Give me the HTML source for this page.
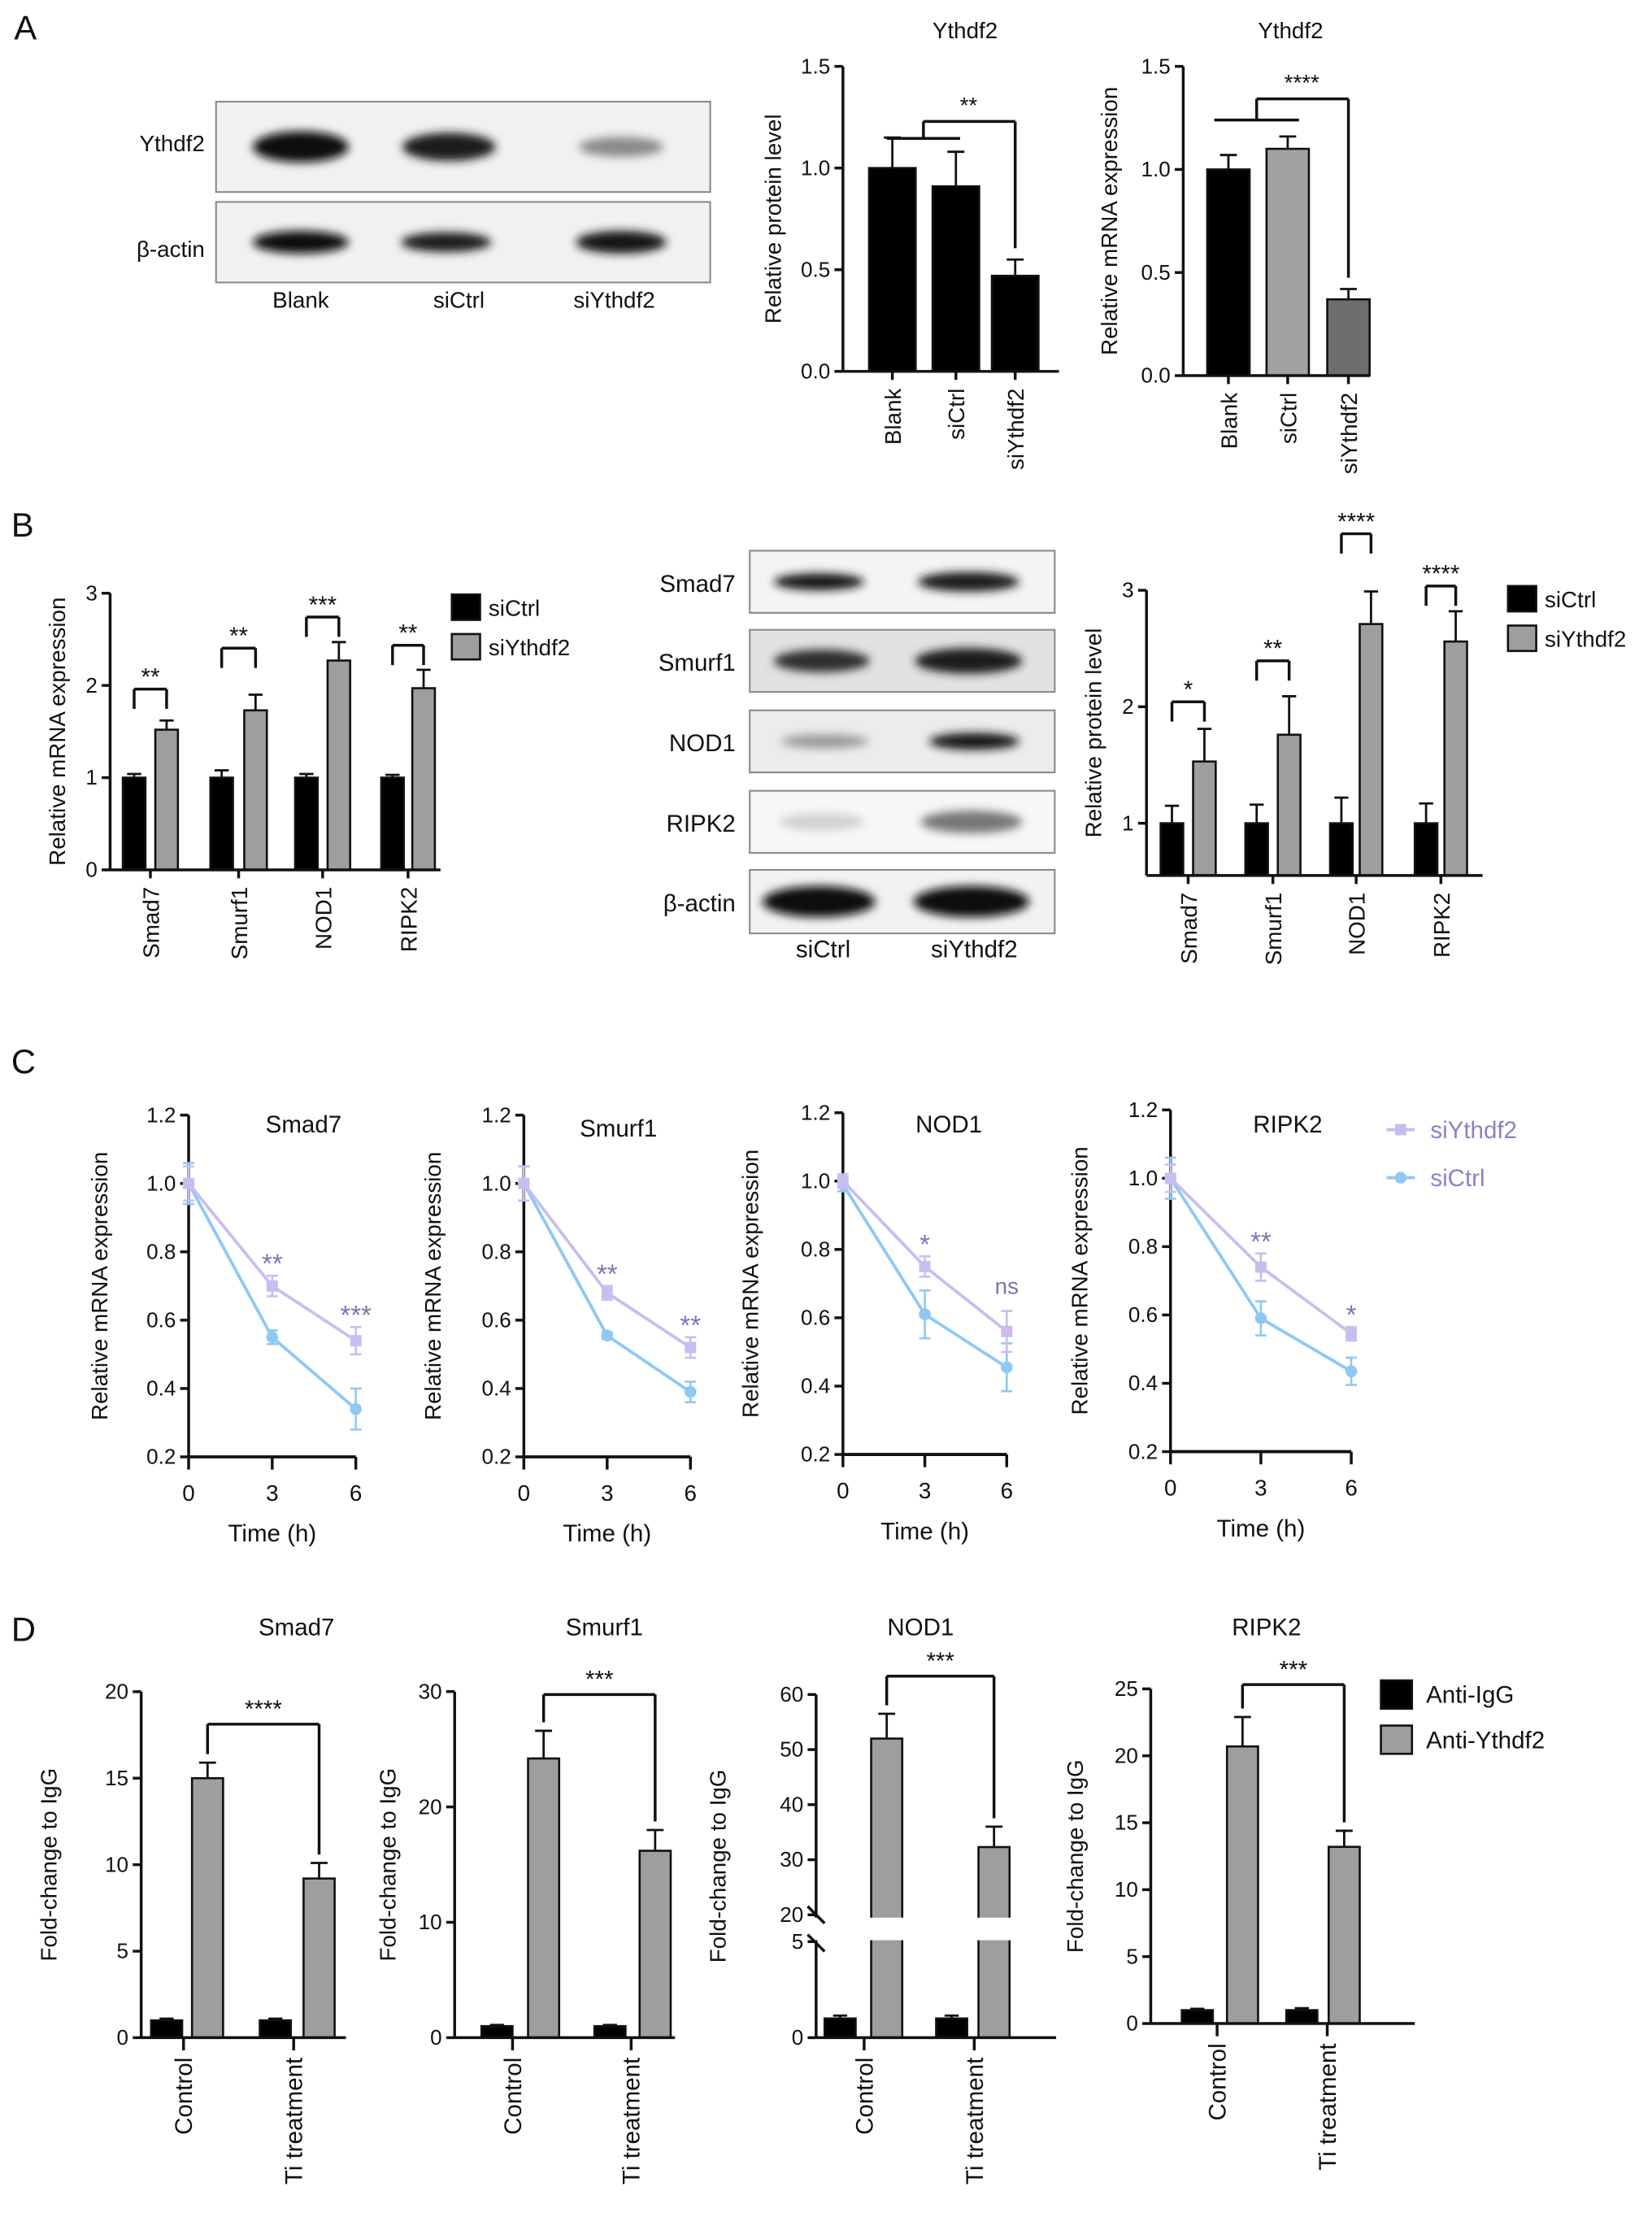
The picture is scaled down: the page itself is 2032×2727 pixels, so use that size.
<!DOCTYPE html>
<html><head><meta charset="utf-8"><style>
html,body{margin:0;padding:0;background:#fff}
svg{display:block}
text{font-family:"Liberation Sans",Arial,sans-serif;fill:#111}
</style></head><body>
<svg id="fig" xmlns="http://www.w3.org/2000/svg" width="2032" height="2727" viewBox="0 0 1170 1570" preserveAspectRatio="none">
<defs>
<filter id="blur" x="-30%" y="-80%" width="160%" height="260%"><feGaussianBlur stdDeviation="3.2"/></filter>
</defs>
<g id="root"></g>
</svg>
<script>
// ---------- DATA ----------
// Panel A
const aCats = ["Blank","siCtrl","siYthdf2"];
const aProtVals = [1.0, 0.91, 0.47];
const aProtErr = [0.15, 0.17, 0.08];
const aMrnaVals = [1.0, 1.1, 0.37];
const aMrnaErr = [0.07, 0.06, 0.05];
const aTicks = [0.0, 0.5, 1.0, 1.5];
// Panel B
const bGenes = ["Smad7","Smurf1","NOD1","RIPK2"];
const bMrnaCtrl = [1.0, 1.0, 1.0, 1.0];
const bMrnaCtrlErr = [0.04, 0.08, 0.04, 0.03];
const bMrnaSi = [1.52, 1.73, 2.27, 1.97];
const bMrnaSiErr = [0.1, 0.17, 0.2, 0.2];
const bMrnaStars = ["**","**","***","**"];
const bMrnaTicks = [0,1,2,3];
const bProtCtrl = [1.0, 1.0, 1.0, 1.0];
const bProtCtrlErr = [0.15, 0.16, 0.22, 0.17];
const bProtSi = [1.53, 1.76, 2.71, 2.56];
const bProtSiErr = [0.28, 0.33, 0.28, 0.26];
const bProtStars = ["*","**","****","****"];
const bProtTicks = [1,2,3];
// Panel C
const cTimes = [0,3,6];
const cTicks = [0.2,0.4,0.6,0.8,1.0,1.2];
const cSmad7Si = [1.0,0.70,0.54], cSmad7SiErr=[0.05,0.03,0.04];
const cSmad7Ct = [1.0,0.55,0.34], cSmad7CtErr=[0.06,0.02,0.06];
const cSmurf1Si = [1.0,0.68,0.52], cSmurf1SiErr=[0.05,0.02,0.03];
const cSmurf1Ct = [1.0,0.555,0.39], cSmurf1CtErr=[0.05,0.01,0.03];
const cNod1Si = [1.0,0.75,0.56], cNod1SiErr=[0.02,0.03,0.06];
const cNod1Ct = [0.99,0.61,0.455], cNod1CtErr=[0.02,0.07,0.07];
const cRipk2Si = [1.0,0.74,0.545], cRipk2SiErr=[0.04,0.04,0.02];
const cRipk2Ct = [1.0,0.59,0.435], cRipk2CtErr=[0.06,0.05,0.04];
const cStars = [["**","***"],["**","**"],["*","ns"],["**","*"]];
// Panel D
const dGroups = ["Control","Ti treatment"];
const dIgG = [[1.0,1.0],[1.0,1.0],[1.0,1.0],[1.0,1.0]];
const dIgGErr = [[0.1,0.1],[0.1,0.1],[0.15,0.15],[0.1,0.15]];
const dYth = [[15.0,9.2],[24.2,16.2],[52.0,32.3],[20.7,13.2]];
const dYthErr = [[0.9,0.9],[2.4,1.8],[4.5,3.7],[2.2,1.2]];
const dStars = ["****","***","***","***"];
const dTicks1 = [0,5,10,15,20];
const dTicks2 = [0,10,20,30];
const dTicks3 = [0,5,20,30,40,50,60];
const dTicks4 = [0,5,10,15,20,25];

// ---------- helpers ----------
const NS="http://www.w3.org/2000/svg";
const root=document.getElementById('root');
function el(tag,attrs,parent,txt){const e=document.createElementNS(NS,tag);for(const k in attrs)e.setAttribute(k,attrs[k]);if(txt!==undefined)e.textContent=txt;(parent||root).appendChild(e);return e;}
function grp(name){const g=el('g',{});


return g;}
function txt(g,x,y,s,size,opt){opt=opt||{};const a={x:x,y:y,'font-size':size,'text-anchor':opt.anchor||'middle'};if(opt.rot!==undefined)a.transform='rotate('+opt.rot+' '+x+' '+y+')';if(opt.fill)a.style='fill:'+opt.fill;if(opt.weight)a['font-weight']=opt.weight;const t=el('text',a,g,s);


return t;}
function line(g,x1,y1,x2,y2,w,c){return el('line',{x1:x1,y1:y1,x2:x2,y2:y2,stroke:c||'#111','stroke-width':w||2},g);}
function rect(g,x,y,w,h,f,name){const r=el('rect',{x:x,y:y,width:w,height:h,fill:f,stroke:'#111','stroke-width':1.5},g);


return r;}
function errBar(g,x,yv,ye,cap,c,w){line(g,x,yv,x,ye,w||1.6,c);line(g,x-cap,ye,x+cap,ye,w||1.6,c);}
function yAxis(g,x,ticks,sc,fmt,yTop,yBot){line(g,x,yTop,x,yBot,2);ticks.forEach(t=>{const y=sc(t);line(g,x-6,y,x,y,2);txt(g,x-9,y+5,fmt(t),15,{anchor:'end',name:'y-tick-label'});});}
function label(s,x,y){txt(null,x,y,s,24,{anchor:'start',name:'panel-label-'+s.toLowerCase()});}

// ---------- Panel labels ----------
label('A',10,28);label('B',8,380);label('C',8,760);label('D',8,1162);

// ---------- Western blots ----------
function blotRow(g,x,y,w,h,name,bands,bg){const r=el('rect',{x:x,y:y,width:w,height:h,fill:bg||'#f1f1f1',stroke:'#8a8a8a','stroke-width':1.2},g);


bands.forEach(b=>{el('ellipse',{cx:b[0],cy:y+h/2,rx:b[1],ry:b[2],fill:b[3],filter:'url(#blur)'},g);});}
(function(){const g=grp('blot-a');
blotRow(g,153,72,350,64,'ythdf2',[[213,34,11,'#111'],[318,33,10,'#1a1a1a'],[440,30,7,'#8a8a8a']]);
blotRow(g,153,143,350,57,'beta-actin',[[213,34,8,'#111'],[316,32,7,'#1a1a1a'],[440,32,8,'#151515']]);
txt(g,145,107,'Ythdf2',16,{anchor:'end'});txt(g,145,182,'β-actin',16,{anchor:'end'});
txt(g,213,218,'Blank',16);txt(g,325,218,'siCtrl',16);txt(g,435,218,'siYthdf2',16);})();
(function(){const g=grp('blot-b');const rows=[['Smad7',390,44,[[580,32,6,'#151515'],[686,36,7,'#1c1c1c']],'#f4f4f4'],['Smurf1',446,44,[[582,34,8,'#2e2e2e'],[686,38,9,'#1a1a1a']],'#e2e2e2'],['NOD1',503,44,[[584,31,5,'#9a9a9a'],[690,32,6,'#141414']],'#ececec'],['RIPK2',560,44,[[582,30,6,'#d0d0d0'],[688,36,8,'#777']],'#f7f7f7'],['β-actin',616,45,[[580,40,11,'#0b0b0b'],[688,41,11,'#0b0b0b']],'#f2f2f2']];
rows.forEach(r=>{blotRow(g,531,r[1],216,r[2],r[0],r[3],r[4]);txt(g,521,r[1]+r[2]/2+7,r[0],17,{anchor:'end'});});
txt(g,583,678,'siCtrl',17);txt(g,690,678,'siYthdf2',17);})();

// ---------- Panel A charts ----------
function aChart(name,title,vals,errs,x0,xEnd,yTop,yZero,centers,bw,cols,brY,shortY,shortX,starX,stars,yl,ylx){
 const g=grp(name);const sc=v=>yZero-v*(yZero-yTop)/1.5;
 txt(g,(x0+xEnd)/2+10,27,title,16,{name:'chart-title'});
 vals.forEach((v,i)=>{rect(g,centers[i]-bw/2,sc(v),bw,yZero-sc(v),cols[i],'bar-'+aCats[i].toLowerCase());errBar(g,centers[i],sc(v),sc(v+errs[i]),6);});
 yAxis(g,x0,aTicks,sc,t=>t.toFixed(1),yTop,yZero);line(g,x0,yZero,xEnd,yZero,2);
 centers.forEach((c,i)=>{line(g,c,yZero,c,yZero+6,2);txt(g,c+6,yZero+12,aCats[i],16,{anchor:'end',rot:-90,name:'x-tick-label'});});
 line(g,shortX[0],shortY,shortX[1],shortY,2);
 const bx1=(shortX[0]+shortX[1])/2;line(g,bx1,brY,centers[2],brY,2);line(g,bx1,brY,bx1,shortY,2);line(g,centers[2],brY,centers[2],sc(vals[2]+errs[2])-8,2);
 txt(g,starX,brY-6,stars,16,{name:'significance'});
 txt(g,ylx,(yTop+yZero)/2,yl,16,{rot:-90,name:'y-axis-title'});
}
aChart('a-protein-chart','Ythdf2',aProtVals,aProtErr,597,750,47,263,[632,677,719],33,['#000','#000','#000'],86,98,[628,680],686,'**','Relative protein level',553);
aChart('a-mrna-chart','Ythdf2',aMrnaVals,aMrnaErr,838,970,47,266,[870,912,955],30,['#000','#a2a2a2','#6e6e6e'],70,85,[860,920],922,'****','Relative mRNA expression',791);

// ---------- Panel B charts ----------
function bChart(name,ctrl,ctrlE,si,siE,stars,ticks,sc,x0,xEnd,yTop,yBot,bc,gc,brY,ylab,ylx,legX,legY){
 const g=grp(name);
 bGenes.forEach((gn,i)=>{rect(g,bc[i]-8,sc(ctrl[i]),16,yBot-sc(ctrl[i]),'#000','bar-'+gn.toLowerCase()+'-sictrl');errBar(g,bc[i],sc(ctrl[i]),sc(ctrl[i]+ctrlE[i]),5);
  rect(g,gc[i]-8,sc(si[i]),16,yBot-sc(si[i]),'#9e9e9e','bar-'+gn.toLowerCase()+'-siythdf2');errBar(g,gc[i],sc(si[i]),sc(si[i]+siE[i]),5);
  line(g,bc[i],brY[i],gc[i],brY[i],2);line(g,bc[i],brY[i],bc[i],brY[i]+14,2);line(g,gc[i],brY[i],gc[i],brY[i]+14,2);
  txt(g,(bc[i]+gc[i])/2,brY[i]-3,stars[i],17,{name:'significance'});
  const cx=(bc[i]+gc[i])/2;line(g,cx,yBot,cx,yBot+6,2);txt(g,cx+6,yBot+12,gn,16,{anchor:'end',rot:-90,name:'x-tick-label'});});
 yAxis(g,x0,ticks,sc,t=>String(t),yTop,yBot);line(g,x0,yBot,xEnd,yBot,2);
 txt(g,ylx,(yTop+yBot)/2,ylab,16,{rot:-90,name:'y-axis-title'});
 const lg=grp(name+'-legend');rect(lg,legX,legY,20,18,'#000','legend-sictrl');txt(lg,legX+26,legY+15,'siCtrl',16,{anchor:'start'});
 rect(lg,legX,legY+28,20,18,'#9e9e9e','legend-siythdf2');txt(lg,legX+26,legY+43,'siYthdf2',16,{anchor:'start'});
}
bChart('b-mrna-chart',bMrnaCtrl,bMrnaCtrlErr,bMrnaSi,bMrnaSiErr,bMrnaStars,bMrnaTicks,v=>616-v*65.3,78,312,420,616,[95,157,217,278],[118,181,240,300],[488,459,437,457],'Relative mRNA expression',46,320,421);
bChart('b-protein-chart',bProtCtrl,bProtCtrlErr,bProtSi,bProtSiErr,bProtStars,bProtTicks,v=>583-(v-1)*82.5,812,1050,418,620,[830,890,950,1010],[853,913,971,1031],[497,468,378,415],'Relative protein level',780,1068,415);

// ---------- Panel C ----------
const cSi=[cSmad7Si,cSmurf1Si,cNod1Si,cRipk2Si],cSiE=[cSmad7SiErr,cSmurf1SiErr,cNod1SiErr,cRipk2SiErr];
const cCt=[cSmad7Ct,cSmurf1Ct,cNod1Ct,cRipk2Ct],cCtE=[cSmad7CtErr,cSmurf1CtErr,cNod1CtErr,cRipk2CtErr];
const cLay=[{x0:133.6,x6:252,y02:1031.7,t:[215,802],yl:76},{x0:371,x6:489,y02:1031.7,t:[438,805],yl:312},{x0:597,x6:713,y02:1030,t:[672,802],yl:537},{x0:829,x6:957,y02:1028,t:[912,802],yl:770}];
const SI='#c9bdf0',CT='#8ec9f5',STAR='#7d74b4';
bGenes.forEach((gn,k)=>{const L=cLay[k];const g=grp('c-'+gn.toLowerCase()+'-chart');
 const sx=t=>L.x0+t*(L.x6-L.x0)/6, sy=v=>L.y02-(v-0.2)*242;
 yAxis(g,L.x0,cTicks,sy,t=>t.toFixed(1),sy(1.2),L.y02);line(g,L.x0,L.y02,L.x6,L.y02,2.2);
 cTimes.forEach(t=>{line(g,sx(t),L.y02,sx(t),L.y02+9,2);txt(g,sx(t),L.y02+31,String(t),16,{name:'x-tick-label'});});
 txt(g,(L.x0+L.x6)/2,L.y02+60,'Time (h)',17,{name:'x-axis-title'});
 txt(g,L.t[0],L.t[1],gn,17,{name:'chart-title'});
 txt(g,L.yl,sy(0.7),'Relative mRNA expression',16,{rot:-90,name:'y-axis-title'});
 [[cCt[k],cCtE[k],CT,'sictrl'],[cSi[k],cSiE[k],SI,'siythdf2']].forEach(s=>{
  const pts=cTimes.map((t,i)=>sx(t)+','+sy(s[0][i])).join(' ');
  const pl=el('polyline',{points:pts,fill:'none',stroke:s[2],'stroke-width':2.2},g);
  
  
  cTimes.forEach((t,i)=>{const x=sx(t),y=sy(s[0][i]);line(g,x,sy(s[0][i]-s[1][i]),x,sy(s[0][i]+s[1][i]),1.5,s[2]);line(g,x-4,sy(s[0][i]+s[1][i]),x+4,sy(s[0][i]+s[1][i]),1.5,s[2]);line(g,x-4,sy(s[0][i]-s[1][i]),x+4,sy(s[0][i]-s[1][i]),1.5,s[2]);
   let m;if(s[3]==='sictrl')m=el('circle',{cx:x,cy:y,r:4.2,fill:s[2]},g);else m=el('rect',{x:x-4,y:y-4,width:8,height:8,fill:s[2]},g);
   
   });});
 [1,2].forEach(i=>{const st=cStars[k][i-1];const yy=sy(Math.max(cSi[k][i]+cSiE[k][i],cCt[k][i]+cCtE[k][i]))-8;
  txt(g,sx(cTimes[i]),st==='ns'?yy-4:yy+6,st,st==='ns'?16:19,{fill:STAR,name:'significance'});});
});
(function(){const g=grp('c-legend');line(g,982,800,1002,800,2.2,SI);const m1=el('rect',{x:988,y:796,width:8,height:8,fill:SI},g);


txt(g,1013,806,'siYthdf2',17,{anchor:'start',fill:'#8b82c4'});
line(g,982,834,1002,834,2.2,CT);const m2=el('circle',{cx:992,cy:834,r:4.2,fill:CT},g);


txt(g,1013,840,'siCtrl',17,{anchor:'start',fill:'#8b82c4'});})();

// ---------- Panel D ----------
const dLay=[
 {x0:100,xe:245,yb:1443,yt:1198,ticks:dTicks1,sc:v=>1443-v*12.25,bx:[118,195],gx:[147,226],brY:1221,title:[210,1158],yl:40,lab:[130,208]},
 {x0:322,xe:478,yb:1443,yt:1198,ticks:dTicks2,sc:v=>1443-v*8.17,bx:[352,432],gx:[385,464],brY:1200,title:[428,1158],yl:280,lab:[363,447]},
 {x0:578,xe:748,yb:1443,yt:1200,ticks:dTicks3,sc:v=>v<=5?1443-v*13.6:1356-(v-20)*3.9,bx:[595,674],gx:[628,704],brY:1187,title:[652,1158],yl:514,lab:[612,690],broken:true},
 {x0:815,xe:1002,yb:1433,yt:1196,ticks:dTicks4,sc:v=>1433-v*9.48,bx:[848,922],gx:[880,952],brY:1193,title:[897,1158],yl:767,lab:[862,940]}];
bGenes.forEach((gn,k)=>{const L=dLay[k];const g=grp('d-'+gn.toLowerCase()+'-chart');const sc=L.sc;
 txt(g,L.title[0],L.title[1],gn,17,{name:'chart-title'});
 dGroups.forEach((gr,i)=>{
  rect(g,L.bx[i]-11,sc(dIgG[k][i]),22,L.yb-sc(dIgG[k][i]),'#000','bar-anti-igg-'+i);errBar(g,L.bx[i],sc(dIgG[k][i]),sc(dIgG[k][i]+dIgGErr[k][i]),5);
  rect(g,L.gx[i]-11,sc(dYth[k][i]),22,L.yb-sc(dYth[k][i]),'#9e9e9e','bar-anti-ythdf2-'+i);errBar(g,L.gx[i],sc(dYth[k][i]),sc(dYth[k][i]+dYthErr[k][i]),6);
  const cx=L.lab[i];line(g,cx,L.yb,cx,L.yb+9,2);txt(g,cx+6,L.yb+14,gr,17,{anchor:'end',rot:-90,name:'x-tick-label'});});
 if(L.broken){const gap=el('rect',{x:L.x0+3,y:1358,width:L.xe-L.x0,height:16,fill:'#fff'},g);
  
  
  line(g,L.x0,1443,L.x0,1374,2);line(g,L.x0,1358,L.x0,L.yt,2);line(g,L.x0-6,1350,L.x0+6,1362,2);line(g,L.x0-6,1370,L.x0+6,1382,2);
  L.ticks.forEach(t=>{const y=sc(t);line(g,L.x0-6,y,L.x0,y,2);txt(g,L.x0-9,y+5,String(t),15,{anchor:'end',name:'y-tick-label'});});}
 else yAxis(g,L.x0,L.ticks,sc,t=>String(t),L.yt,L.yb);
 line(g,L.x0,L.yb,L.xe,L.yb,2);
 const a=L.gx[0],b=L.gx[1];line(g,a,L.brY,b,L.brY,2);line(g,a,L.brY,a,sc(dYth[k][0]+dYthErr[k][0])-6,2);line(g,b,L.brY,b,sc(dYth[k][1]+dYthErr[k][1])-6,2);
 txt(g,(a+b)/2,L.brY-5,dStars[k],17,{name:'significance'});
 txt(g,L.yl,(L.yt+L.yb)/2,'Fold-change to IgG',16,{rot:-90,name:'y-axis-title'});
});
(function(){const g=grp('d-legend');rect(g,978,1190,22,20,'#000','legend-anti-igg');txt(g,1010,1206,'Anti-IgG',17,{anchor:'start'});
rect(g,978,1222,22,20,'#9e9e9e','legend-anti-ythdf2');txt(g,1010,1238,'Anti-Ythdf2',17,{anchor:'start'});})();
</script>
</body></html>
